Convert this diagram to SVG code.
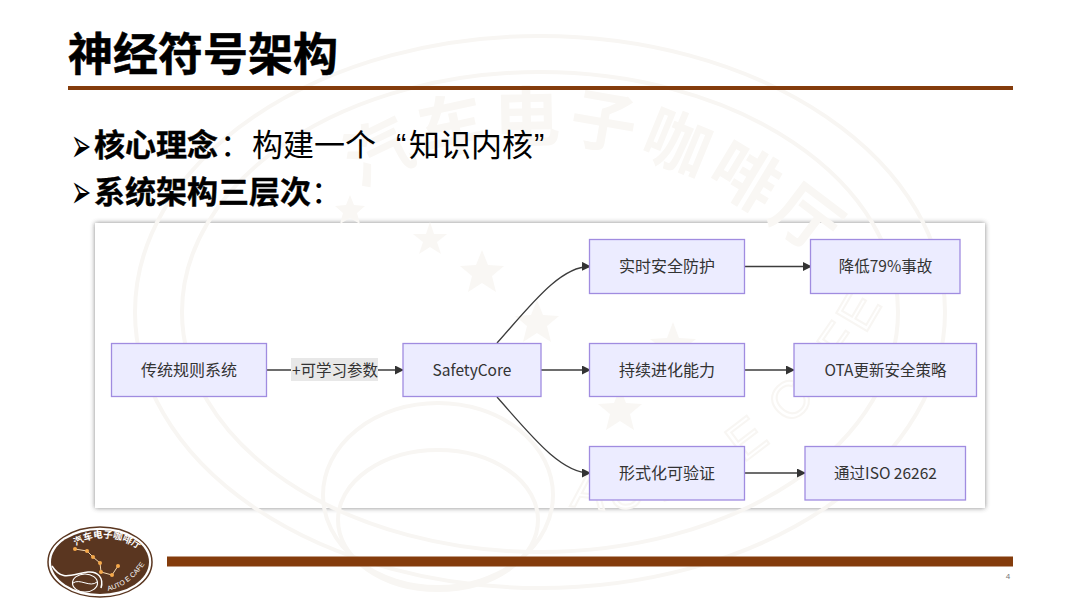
<svg xmlns="http://www.w3.org/2000/svg" width="1080" height="608" viewBox="0 0 1080 608">
<style>
.cjk{font-family:"Noto Sans CJK SC","Liberation Sans",sans-serif}
.nt{font-family:"Noto Sans CJK SC","Noto Sans",sans-serif;font-size:16px;fill:#333;text-anchor:middle;dominant-baseline:central}
.n{fill:#ececff;stroke:#a08ce0;stroke-width:1.3}
.e{fill:none;stroke:#3c3c3c;stroke-width:1.300}
.wm{fill:none;stroke:#f8f6f3;stroke-width:4}
.star{fill:#f9f7f4}
.wt{font-family:"Noto Sans CJK SC",sans-serif;font-weight:700;font-size:66px;fill:#f9f7f4;letter-spacing:6px}
.wa{font-family:"Liberation Sans",sans-serif;font-size:52px;fill:none;stroke:#f8f6f3;stroke-width:2;letter-spacing:5px}
.b{fill:#843c0c}
.bl{font-family:"DejaVu Sans",sans-serif;font-size:24px;fill:#000}
.q{font-family:"Liberation Sans",sans-serif}
</style>
<defs>
<marker id="a" markerWidth="9" markerHeight="9" refX="8" refY="4.500" orient="auto" markerUnits="userSpaceOnUse"><path d="M0 0L9 4.500L0 9z" fill="#333"/></marker>
<filter id="sh" x="-3%" y="-6%" width="106%" height="112%"><feGaussianBlur stdDeviation="2.5"/></filter>
<path id="arc" d="M360 190C440 135 560 130 640 155S800 235 900 330"/>
<path id="arc2" d="M570 505C680 530 810 440 885 300"/>
<path id="la" d="M76 546C95 533 125 535 146 556"/>
<path id="lb" d="M108 591C122 588 136 578 146 562"/>
</defs>
<rect width="1080" height="608" fill="#fff"/>
<g id="card">
<rect x="95" y="223" width="890" height="285" fill="#444" opacity=".65" filter="url(#sh)"/>
<rect x="95" y="223" width="890" height="285" fill="#fff"/>
</g>
<g id="watermark">
<ellipse class="wm" cx="540" cy="312" rx="405" ry="276"/>
<ellipse class="wm" cx="540" cy="312" rx="358" ry="240"/>
<text class="wt"><textPath href="#arc">汽车电子咖啡厅</textPath></text>
<text class="wa"><textPath href="#arc2">AUTO E CAFE</textPath></text>
<ellipse class="wm" cx="438" cy="495" rx="115" ry="92"/>
<ellipse class="wm" cx="438" cy="520" rx="100" ry="70"/>
<path class="star" d="M482 250l6 15 16 1-12 10 4 16-14-9-14 9 4-16-12-10 16-1z"/>
<path class="star" d="M537 300l6 15 16 1-12 10 4 16-14-9-14 9 4-16-12-10 16-1z"/>
<path class="star" d="M673 322l6 16 17 1-13 10 4 16-14-9-14 9 4-16-13-10 17-1z"/>
<path class="star" d="M620 388l6 15 16 1-12 10 4 16-14-9-14 9 4-16-12-10 16-1z"/>
<path class="star" d="M430 222l4 12 13 0-10 8 4 12-11-7-11 7 4-12-10-8 13 0z"/>
<path class="star" d="M350 195l4 10 11 1-8 7 3 11-10-6-10 6 3-11-8-7 11-1z"/>
</g>
<g id="title">
<text class="cjk" x="68" y="71" font-size="45" font-weight="700" fill="#000" stroke="#000" stroke-width=".5">神经符号架构</text>
<rect class="b" x="68" y="86" width="945" height="4"/>
</g>
<g id="bullets" class="cjk" font-size="31" fill="#000">
<text class="bl" transform="translate(71 162) scale(1 2)">➢</text>
<text x="94" y="156"><tspan font-weight="700" stroke="#000" stroke-width=".4">核心理念</tspan><tspan x="220">：</tspan><tspan x="252">构建一个</tspan><tspan x="396" class="q">“</tspan><tspan x="409">知识内核</tspan><tspan x="534" class="q">”</tspan></text>
<text class="bl" transform="translate(71 208) scale(1 2)">➢</text>
<text x="94" y="203"><tspan font-weight="700" stroke="#000" stroke-width=".4">系统架构三层次</tspan><tspan x="311">：</tspan></text>
</g>
<g id="connectors">
<path class="e" d="M266.500 370H403" marker-end="url(#a)"/>
<path class="e" d="M497 343C530 306 560 266 590 266.500" marker-end="url(#a)"/>
<path class="e" d="M541 370H590" marker-end="url(#a)"/>
<path class="e" d="M497 397C530 434 560 473 590 473" marker-end="url(#a)"/>
<path class="e" d="M745 266.500H811" marker-end="url(#a)"/>
<path class="e" d="M745 370H794" marker-end="url(#a)"/>
<path class="e" d="M745 473H805" marker-end="url(#a)"/>
</g>
<g id="edge-label">
<rect x="291" y="358" width="87" height="23" fill="#e8e8e8"/>
<text class="nt" x="335" y="368.500" font-size="15.500" style="font-size:15.500px">+可学习参数</text>
</g>
<g id="n1"><rect class="n" x="111.500" y="343.500" width="155" height="53"/><text class="nt" x="189" y="368.500">传统规则系统</text></g>
<g id="n2"><rect class="n" x="403" y="343.500" width="138" height="53"/><text class="nt" x="472" y="368.500" style="font-size:15.500px">SafetyCore</text></g>
<g id="n3"><rect class="n" x="589.500" y="239.500" width="155" height="54"/><text class="nt" x="667" y="265">实时安全防护</text></g>
<g id="n4"><rect class="n" x="589.500" y="343.500" width="155" height="53"/><text class="nt" x="667" y="368.500">持续进化能力</text></g>
<g id="n5"><rect class="n" x="589.500" y="446.500" width="155" height="53.500"/><text class="nt" x="667" y="472">形式化可验证</text></g>
<g id="n6"><rect class="n" x="810.500" y="239.500" width="149.500" height="54"/><text class="nt" x="885.500" y="265" style="font-size:15.500px">降低79%事故</text></g>
<g id="n7"><rect class="n" x="794" y="343.500" width="182.500" height="53"/><text class="nt" x="885.500" y="368.500" style="font-size:15.500px">OTA更新安全策略</text></g>
<g id="n8"><rect class="n" x="805" y="446.500" width="160.500" height="53.500"/><text class="nt" x="885.500" y="472" style="font-size:15.500px">通过ISO 26262</text></g>
<g id="footer">
<rect class="b" x="167" y="556.500" width="846" height="10"/>
<text x="1008" y="579" font-family="Liberation Sans" font-size="8" fill="#777" text-anchor="middle">4</text>
</g>
<g id="logo">
<ellipse cx="100" cy="562" rx="52" ry="35" fill="#fff" stroke="#5a3620" stroke-width="1.500"/>
<ellipse cx="100" cy="562" rx="49" ry="32" fill="#5a3620"/>
<path d="M52 566C62 582 72 574 88 572C98 571 104 578 101 588" fill="none" stroke="#fff" stroke-width="1.500"/>
<ellipse cx="85" cy="583" rx="12.500" ry="9" fill="#5a3620" stroke="#fff" stroke-width="1.200"/>
<path d="M73 583C80 578 90 588 97 582" fill="none" stroke="#fff"/>
<path d="M75 549L87 551L93 557L100 563L101 572L112 575L118 566" fill="none" stroke="#f3d8b0" stroke-width="1"/>
<g fill="#f6a94a"><circle cx="75" cy="549" r="2"/><circle cx="87" cy="551" r="2"/><circle cx="93" cy="557" r="2"/><circle cx="100" cy="563" r="2"/><circle cx="101" cy="572" r="2"/><circle cx="112" cy="575" r="2"/><circle cx="118" cy="566" r="2"/></g>
<text class="cjk" font-size="9.500" font-weight="700" fill="#fff"><textPath href="#la">汽车电子咖啡厅</textPath></text>
<text font-family="Liberation Sans" font-size="7" fill="#fff"><textPath href="#lb">AUTO E CAFE</textPath></text>
</g>
</svg>
